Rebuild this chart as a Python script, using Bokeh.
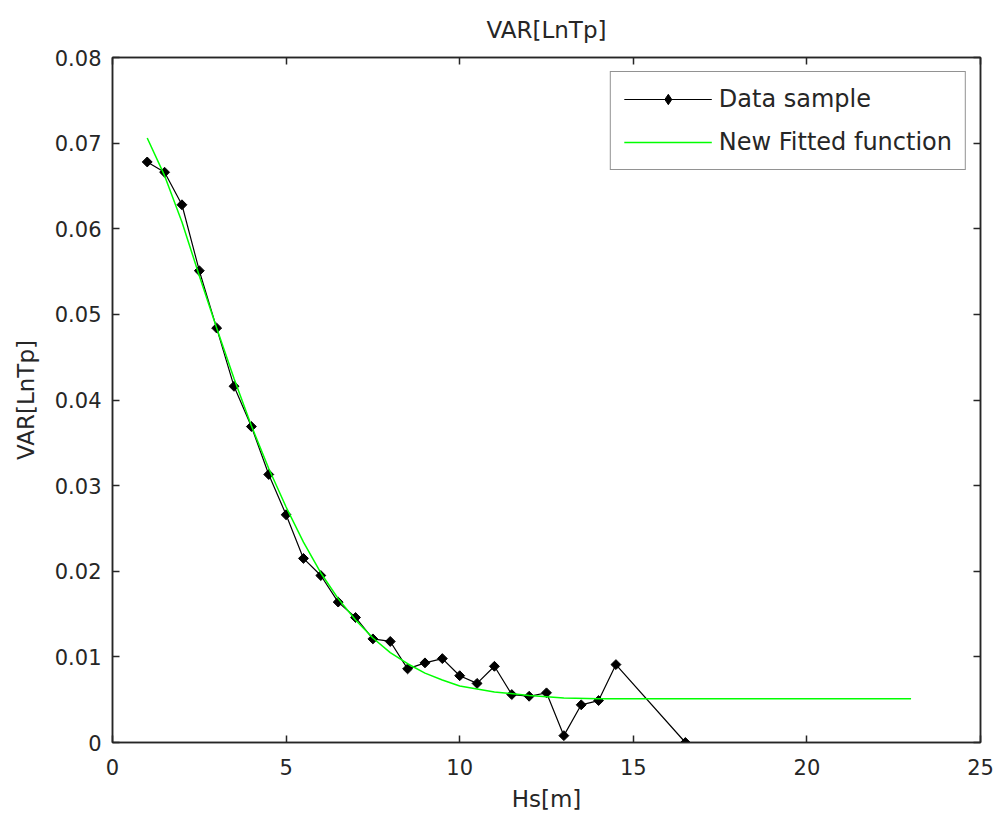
import math
from bokeh.plotting import figure
from bokeh.models import Range1d, LinearAxis, FixedTicker, Legend, LegendItem
from bokeh.embed import file_html
from bokeh.resources import INLINE

# Data sample
hs = [1, 1.5, 2, 2.5, 3, 3.5, 4, 4.5, 5, 5.5, 6, 6.5, 7, 7.5, 8, 8.5, 9, 9.5,
      10, 10.5, 11, 11.5, 12, 12.5, 13, 13.5, 14, 14.5, 16.5]
var_lntp = [0.0678, 0.0666, 0.0628, 0.0551, 0.0484, 0.0416, 0.0369, 0.0313,
            0.0266, 0.0215, 0.0195, 0.0164, 0.0146, 0.0121, 0.0118, 0.0086,
            0.0093, 0.0098, 0.0078, 0.0069, 0.0089, 0.0056, 0.0054, 0.0058,
            0.0008, 0.0044, 0.0049, 0.0091, 0.0000]

# New fitted function
fit_x = [1, 1.5, 2, 2.5, 3, 3.5, 4, 4.5, 5, 5.5, 6, 6.5, 7, 7.5, 8, 8.5, 9,
         9.5, 10, 11, 12, 13, 14, 16, 18, 20, 23]
fit_y = [0.0706, 0.0662, 0.0608, 0.0545, 0.0484, 0.0425, 0.0370, 0.0320,
         0.0275, 0.0234, 0.0198, 0.0168, 0.0143, 0.0122, 0.0105, 0.0092,
         0.0081, 0.0073, 0.0066, 0.0059, 0.0055, 0.0052, 0.0051, 0.0051,
         0.0051, 0.0051, 0.0051]

x_ticks = [0, 5, 10, 15, 20, 25]
y_ticks = [0, 0.01, 0.02, 0.03, 0.04, 0.05, 0.06, 0.07, 0.08]
y_tick_labels = ["0", "0.01", "0.02", "0.03", "0.04", "0.05", "0.06", "0.07", "0.08"]

FONT = "DejaVu Sans"
AXC = "#262626"

p = figure(width=995, height=815, output_backend="svg", toolbar_location=None,
           x_range=Range1d(0, 25), y_range=Range1d(0, 0.08),
           min_border_left=112, min_border_right=15, min_border_top=57,
           min_border_bottom=73, title="VAR[LnTp]")
p.title.align = "center"
p.title.text_font = FONT
p.title.text_font_size = "23px"
p.title.text_font_style = "normal"
p.title.text_color = AXC
p.title.standoff = 2
p.grid.visible = False
p.outline_line_color = AXC
p.outline_line_width = 1.5

p.xaxis.ticker = FixedTicker(ticks=x_ticks)
p.yaxis.ticker = FixedTicker(ticks=y_ticks)
p.yaxis.major_label_overrides = {t: l for t, l in zip(y_ticks, y_tick_labels)}
p.xaxis.axis_label = "Hs[m]"
p.yaxis.axis_label = "VAR[LnTp]"
for ax in (p.xaxis[0], p.yaxis[0]):
    ax.major_tick_in = 7
    ax.major_tick_out = 0
    ax.minor_tick_line_color = None
    ax.axis_line_color = AXC
    ax.axis_line_width = 1.5
    ax.major_tick_line_color = AXC
    ax.major_tick_line_width = 1.5
    ax.major_label_text_font = FONT
    ax.major_label_text_font_size = "21px"
    ax.major_label_text_color = AXC
    ax.axis_label_text_font = FONT
    ax.axis_label_text_font_size = "23px"
    ax.axis_label_text_font_style = "normal"
    ax.axis_label_text_color = AXC
p.xaxis.major_label_standoff = 16
p.yaxis.major_label_standoff = 11
p.xaxis.axis_label_standoff = 8
p.yaxis.axis_label_standoff = 13

top = LinearAxis(ticker=FixedTicker(ticks=x_ticks), major_label_text_font_size="0px",
                 major_tick_in=7, major_tick_out=0, minor_tick_line_color=None,
                 axis_line_color=AXC, major_tick_line_color=AXC,
                 axis_line_width=1.5, major_tick_line_width=1.5,
                 axis_label="\u00a0", axis_label_text_font_size="10px",
                 axis_label_standoff=0, major_label_standoff=0)
right = LinearAxis(ticker=FixedTicker(ticks=y_ticks), major_label_text_font_size="0px",
                   major_tick_in=7, major_tick_out=0, minor_tick_line_color=None,
                   axis_line_color=AXC, major_tick_line_color=AXC,
                   axis_line_width=1.5, major_tick_line_width=1.5)
top.major_label_overrides = {t: "" for t in x_ticks}
right.major_label_overrides = {t: "" for t in y_ticks}
p.add_layout(top, "above")
p.add_layout(right, "right")

l1 = p.line(hs, var_lntp, line_color="black", line_width=1.2)
s1 = p.scatter(hs, var_lntp, marker="square", size=7, angle=math.pi / 4,
               fill_color="black", line_color="black")
# legend-only marker (diamond glyph for the legend swatch)
s_leg = p.scatter([float("nan")], [float("nan")], marker="diamond", size=9,
                  fill_color="black", line_color="black")
l2 = p.line(fit_x, fit_y, line_color="#00ff00", line_width=1.5)

legend = Legend(items=[LegendItem(label="Data sample", renderers=[l1, s_leg]),
                       LegendItem(label="New Fitted function", renderers=[l2])],
                location="top_right")
legend.label_text_font = FONT
legend.label_text_font_size = "24px"
legend.label_text_color = AXC
legend.border_line_color = AXC
legend.border_line_width = 1.5
legend.glyph_width = 88
legend.glyph_height = 26
legend.label_height = 26
legend.spacing = 15
legend.padding = 13
legend.margin = 14
legend.label_standoff = 7
p.add_layout(legend)

open("out.html", "w").write(file_html(p, INLINE))
